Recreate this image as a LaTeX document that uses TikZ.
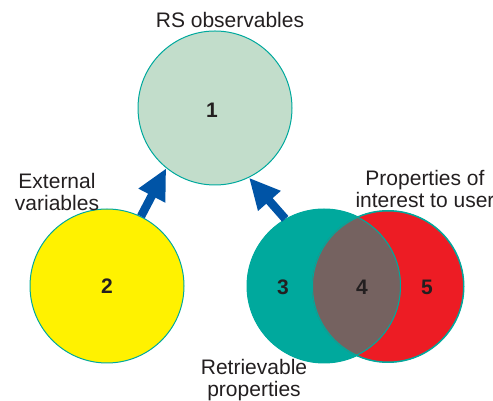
\documentclass[tikz,border=0pt]{standalone}
\usepackage{fontspec}
\setmainfont{Liberation Sans}
\usetikzlibrary{arrows.meta}
\definecolor{ringline}{HTML}{00A99D}
\definecolor{obsfill}{HTML}{C2DDCB}
\definecolor{extfill}{HTML}{FFF200}
\definecolor{retfill}{HTML}{00A99D}
\definecolor{usrfill}{HTML}{ED1C24}
\definecolor{bothfill}{HTML}{756260}
\definecolor{flow}{HTML}{0054A6}
\definecolor{ink}{HTML}{231F20}
\begin{document}
\begin{tikzpicture}[x=1pt,y=1pt,
  setcircle/.style={circle, inner sep=0pt, minimum size=154pt, draw=ringline, line width=1pt},
  num/.style={font=\fontsize{21}{22}\selectfont\bfseries, text=ink},
  caption/.style={font=\fontsize{21}{22}\selectfont, text=ink, align=center},
  flowarrow/.style={draw=flow, line width=8.5pt, -{Triangle[length=31pt,width=28pt]}}]
\useasboundingbox (0,0) rectangle (493,401);
% the three circles that carry data
\node[setcircle, fill=obsfill] (c1) at (215,293) {};
\node[setcircle, fill=extfill] (c2) at (107,115) {};
% the two overlapping sets
\node[setcircle, fill=retfill] (c3) at (324,115) {};
\node[setcircle, fill=usrfill, minimum size=152pt] (c5) at (388,114.5) {};
\begin{scope}
  \clip (324,115) circle (77);
  \fill[bothfill] (388,114.5) circle (76);
\end{scope}
\draw[ringline, line width=1pt] (324,115) circle (76.5);
\draw[ringline, line width=1pt] (388,114.5) circle (75.5);
% numbers
\node[num] (n1) at (212,291) {1};
\node[num] (n2) at (107,115) {2};
\node[num] (n3) at (283,114) {3};
\node[num] (n4) at (362,114) {4};
\node[num] (n5) at (427,114) {5};
% captions
\node[caption] (t1) at (230,381) {RS observables};
\node[caption] (t2) at (57,209.5) {External\\variables};
\node[caption] (t3) at (425,212) {Properties of\\interest to user};
\node[caption] (t4) at (254,20.5) {Retrievable\\properties};
% flow arrows into the observables
\draw[flowarrow] (c2.64) -- (c1.231.5);
\draw[flowarrow] (c3.120) -- (c1.296.5);
\end{tikzpicture}
\end{document}
